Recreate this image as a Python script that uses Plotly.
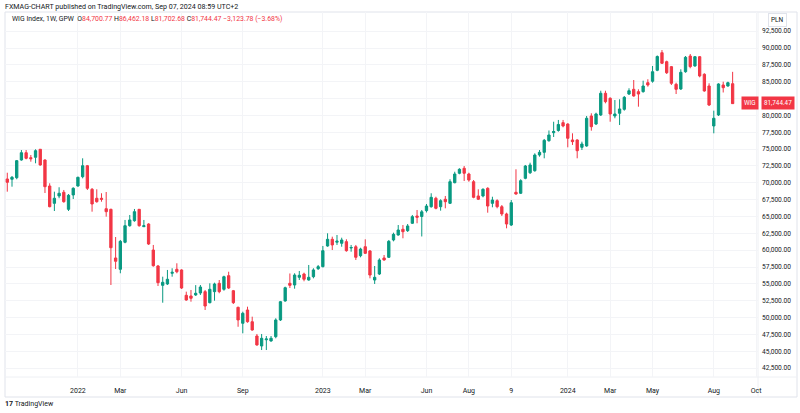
import pandas as pd
import plotly.graph_objects as go

# ---------------- data (weekly WIG candles) ----------------
first_week = "2021-09-20"
n_weeks = 155

open_ = [70560, 70520, 70750, 73380, 74460, 73720, 73780, 74970, 73380, 69520,
         66950, 68040, 68590, 66060, 68190, 69520, 70900, 72530, 69030, 67700,
         67700, 66150, 66060, 58840, 57160, 61170, 63630, 64370, 66060, 63480,
         63880, 60020, 57650, 54780, 54980, 56570, 57160, 57060, 53300, 53200,
         53350, 53640, 53840, 52200, 53840, 55080, 54190, 56210, 53980, 51520,
         49150, 51120, 49380, 47260, 45780, 46700, 46520, 47160, 49640, 52460,
         55080, 54830, 55970, 56460, 55570, 56060, 57250, 57550, 60620, 61610,
         61180, 61020, 61260, 60320, 60510, 59180, 60510, 59880, 55570, 56460,
         58840, 58940, 61510, 62250, 63100, 62890, 63990, 65070, 64990, 65860,
         66450, 67700, 66450, 67550, 66950, 70010, 71410, 72150, 71300, 70160,
         68040, 68040, 69180, 66950, 67340, 66450, 65370, 63730, 68590, 68440,
         70660, 71490, 71790, 74120, 74520, 76240, 77430, 77760, 78920, 78720,
         76350, 76350, 75260, 75460, 79910, 78720, 80060, 83280, 82540, 79910,
         80310, 80900, 83170, 83870, 83520, 83520, 84850, 85070, 86690, 89300,
         87970, 87230, 84610, 83920, 86480, 88810, 87330, 88710, 86100, 84360,
         78430, 80060, 84510, 84360, 84700.77]
high = [71490, 71000, 73380, 74860, 74860, 74120, 74970, 75010, 73480, 69920,
        68680, 69330, 68930, 68330, 69330, 70900, 73630, 72640, 69220, 69030,
        68440, 68630, 66150, 61950, 61510, 64480, 65220, 66110, 66110, 64480,
        63990, 60770, 57800, 56060, 57060, 57310, 58050, 57160, 53840, 54090,
        54810, 54830, 54090, 55080, 55170, 55570, 56210, 56800, 54090, 51610,
        50870, 51610, 50130, 47560, 47560, 47260, 47260, 49890, 52460, 54580,
        56540, 56570, 56910, 56660, 57800, 57310, 57800, 60620, 62500, 62000,
        62250, 61850, 61610, 60770, 60770, 60360, 61610, 60020, 57650, 58790,
        59280, 61510, 62590, 63730, 63730, 63880, 65220, 65960, 65960, 66850,
        68440, 67930, 67550, 68040, 70520, 71640, 72150, 72490, 71490, 70410,
        69030, 69180, 69330, 67930, 67550, 66700, 65560, 67440, 72000, 70520,
        72640, 72980, 74370, 74860, 76500, 77760, 79060, 79320, 79320, 78830,
        77340, 76450, 76100, 79910, 80310, 80400, 83660, 83660, 82680, 82280,
        82390, 82880, 84020, 85250, 83870, 85150, 85360, 87330, 88890, 89700,
        88120, 87330, 84850, 86840, 88810, 89110, 88810, 88810, 86250, 84760,
        80700, 84760, 85000, 85000, 86462.18]
low = [68680, 69420, 70520, 73280, 73480, 73130, 72890, 72530, 68480, 66360,
       65810, 67700, 67040, 65810, 67590, 69420, 70660, 68930, 65710, 67040,
       67190, 64970, 54830, 57200, 56570, 61020, 63480, 64220, 63480, 63440,
       60770, 57550, 54680, 52200, 54830, 56060, 56570, 54240, 52500, 52350,
       53200, 53350, 51120, 52110, 52500, 53600, 53980, 54240, 52010, 48630,
       47660, 49230, 48050, 45820, 45180, 45180, 46420, 46920, 49490, 52350,
       54380, 54280, 55570, 55380, 55470, 55820, 57060, 57440, 60510, 60020,
       60770, 60510, 59770, 59770, 58540, 58940, 59430, 55820, 54980, 56310,
       58440, 58840, 61310, 62150, 61760, 62700, 63880, 63990, 62030, 65590,
       66300, 66060, 65860, 66210, 66850, 69920, 71260, 70260, 70160, 67700,
       67440, 67840, 65560, 66360, 66210, 65070, 63240, 63590, 68240, 68330,
       70520, 71300, 71640, 73870, 73630, 76100, 76790, 77580, 78230, 75260,
       75610, 73630, 74860, 75350, 77730, 78570, 79910, 81790, 79060, 79570,
       78570, 80700, 83030, 82770, 81290, 83370, 84260, 84850, 86560, 87630,
       86140, 84510, 83170, 83770, 86330, 86990, 87230, 85650, 83520, 81390,
       77340, 79910, 83400, 84260, 81702.68]
close = [70070, 70810, 73280, 74460, 73630, 73570, 74760, 72640, 69420, 66450,
         67700, 68440, 67190, 68140, 69180, 70810, 72530, 69180, 66850, 67190,
         67550, 65710, 60360, 58350, 61310, 63630, 64480, 65710, 63630, 63630,
         60910, 57690, 55170, 55230, 55680, 56710, 56800, 54380, 52600, 52860,
         53600, 54530, 51710, 54190, 54980, 53840, 56060, 54380, 52200, 49640,
         50630, 49380, 48150, 45930, 46920, 46820, 46920, 49640, 52350, 54430,
         54780, 56310, 56270, 55680, 55970, 57060, 57550, 59920, 61610, 60770,
         61330, 61510, 59920, 60390, 58940, 60170, 59530, 56310, 55970, 58540,
         58540, 61310, 62350, 62990, 62740, 63590, 64970, 64880, 65690, 66550,
         67840, 66210, 67340, 67190, 70160, 71300, 72000, 71410, 70410, 67840,
         67550, 69030, 66550, 67440, 66450, 65370, 63880, 67040, 68330, 70310,
         72490, 72640, 74120, 74520, 76300, 77090, 77610, 78650, 78430, 76600,
         76100, 74760, 75750, 79570, 78320, 80210, 83280, 82030, 80210, 80210,
         80950, 82680, 83660, 82880, 83170, 84360, 84510, 86480, 88740, 87730,
         86330, 84760, 83870, 86390, 88620, 87230, 88710, 85850, 83620, 81540,
         79570, 84660, 84110, 84850, 81744.47]

tick_dates = ["2022-01-03", "2022-03-07", "2022-06-06", "2022-09-05", "2023-01-02",
              "2023-03-06", "2023-06-05", "2023-08-07", "2023-10-09", "2024-01-01",
              "2024-03-04", "2024-05-06", "2024-08-05", "2024-10-07"]
tick_labels = ["2022", "Mar", "Jun", "Sep", "2023", "Mar", "Jun", "Aug", "9",
               "2024", "Mar", "May", "Aug", "Oct"]
price_ticks = [42500, 45000, 47500, 50000, 52500, 55000, 57500, 60000, 62500, 65000,
               67500, 70000, 72500, 75000, 77500, 80000, 82500, 85000, 87500, 90000, 92500]
# 82,500 is hidden behind the last-price label in the reference
price_labels = ["" if v == 82500 else f"{v:,.2f}" for v in price_ticks]

dates = pd.date_range(start=first_week, periods=n_weeks, freq="7D")

# ---------------- layout geometry ----------------
W, H = 800, 413
L_, R_, T_, B_ = 5, 42, 12, 36
pw, ph = W - L_ - R_, H - T_ - B_
FONT = "Roboto"
INK = "#131722"
RED = "#f23645"
GREEN = "#089981"


def px(x):
    return (x - L_) / pw


def py(y):
    return (H - B_ - y) / ph


x_start = pd.Timestamp(first_week) - pd.Timedelta(days=3.4)
x_end = x_start + pd.Timedelta(days=pw / (4.71 / 7))

fig = go.Figure(go.Candlestick(
    x=dates, open=open_, high=high, low=low, close=close,
    increasing=dict(line=dict(color=GREEN, width=1), fillcolor=GREEN),
    decreasing=dict(line=dict(color=RED, width=1), fillcolor=RED),
    whiskerwidth=0, hoverinfo="skip", showlegend=False,
))

fig.update_layout(
    width=W, height=H,
    margin=dict(l=L_, r=R_, t=T_, b=B_),
    paper_bgcolor="white", plot_bgcolor="white",
    font=dict(family=FONT, size=7, color=INK),
    xaxis=dict(
        type="date", range=[x_start, x_end], rangeslider=dict(visible=False),
        tickvals=tick_dates, ticktext=tick_labels, showgrid=True,
        gridcolor="#f3f4f7", gridwidth=1, zeroline=False, showline=False,
        ticks="", ticklabelstandoff=8, tickfont=dict(size=7, color=INK),
    ),
    yaxis=dict(
        side="right", range=[41176, 95342], tickvals=price_ticks, ticktext=price_labels,
        showgrid=True, gridcolor="#f3f4f7", gridwidth=1,
        zeroline=False, showline=False, ticks="", ticklabelstandoff=3,
        tickfont=dict(size=6.6, color=INK),
    ),
)

anns = [
    dict(x=px(3), y=py(6.5), text="FXMAG-CHART published on TradingView.com, Sep 07, 2024 08:59 UTC+2",
         font=dict(size=7.1, color=INK), xanchor="left", yanchor="middle"),
    dict(x=px(10), y=py(19.5),
         text=("WIG Index, 1W, GPW  O<span style='color:#f23645'>84,700.77</span> "
               "H<span style='color:#f23645'>86,462.18</span> "
               "L<span style='color:#f23645'>81,702.68</span> "
               "C<span style='color:#f23645'>81,744.47</span> "
               "<span style='color:#f23645'>\u22123,123.78 (\u22123.68%)</span>"),
         font=dict(size=6.9, color=INK), xanchor="left", yanchor="middle"),
    dict(x=px(777), y=py(20), text="PLN", font=dict(size=6.5, color=INK),
         bgcolor="white", bordercolor="#e0e3eb", borderwidth=1, borderpad=2,
         xanchor="center", yanchor="middle"),
    dict(x=px(750), y=py(103), text="WIG", font=dict(size=6.3, color="white"),
         bgcolor=RED, borderpad=2, xanchor="center", yanchor="middle"),
    dict(x=px(778), y=py(103), text="81,744.47", font=dict(size=6.3, color="white"),
         bgcolor=RED, borderpad=2, xanchor="center", yanchor="middle"),
    dict(x=px(3), y=py(404), text="<b>17</b> TradingView", font=dict(size=7, color=INK),
         xanchor="left", yanchor="middle"),
]
for a in anns:
    a.update(xref="paper", yref="paper", showarrow=False)
fig.update_layout(annotations=anns)

fig.update_layout(shapes=[
    dict(type="rect", xref="paper", yref="paper", x0=px(5), x1=px(797), y0=py(397), y1=py(12),
         line=dict(color="#e0e3eb", width=1), layer="below"),
    dict(type="line", xref="paper", yref="paper", x0=px(5), x1=px(797), y0=py(377), y1=py(377),
         line=dict(color="#eef0f4", width=1), layer="below"),
    dict(type="line", xref="paper", yref="paper", x0=px(758), x1=px(758), y0=py(397), y1=py(12),
         line=dict(color="#eef0f4", width=1), layer="below"),
])

fig.write_html("out.html", config={"displayModeBar": False, "staticPlot": True},
               post_script="document.body.style.margin='0';document.body.style.overflow='hidden';")
